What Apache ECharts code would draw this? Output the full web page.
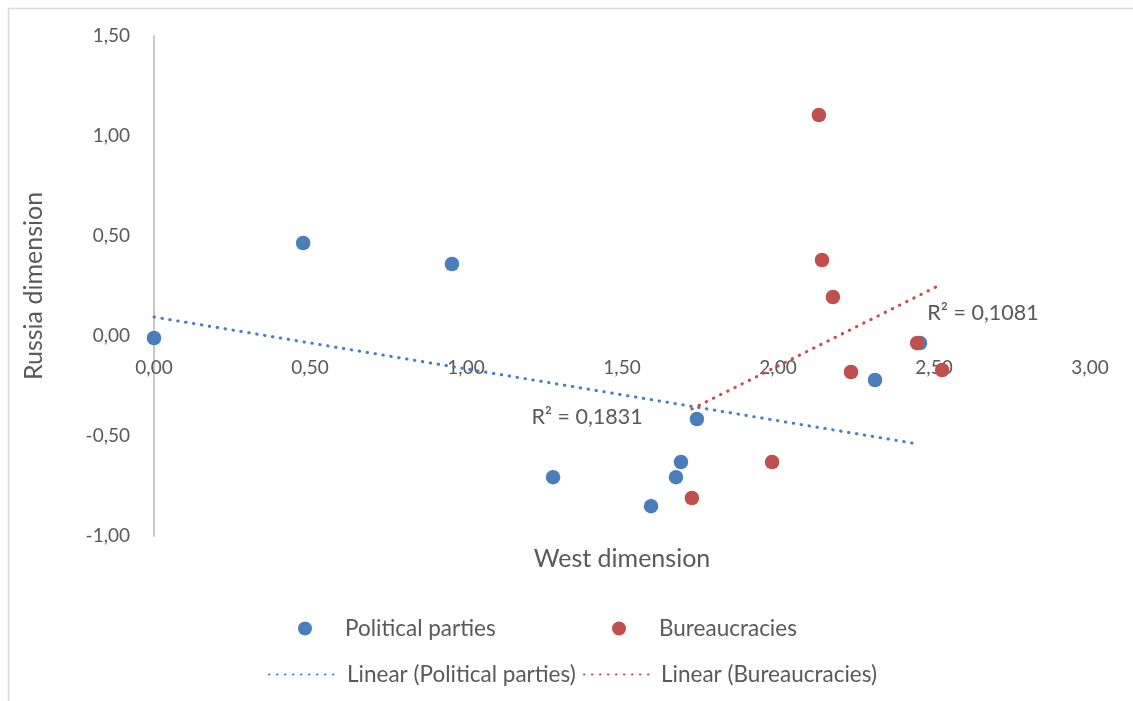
<!DOCTYPE html>
<html>
<head>
<meta charset="utf-8">
<script src="https://cdn.jsdelivr.net/npm/echarts@6/dist/echarts.min.js"></script>
<style>
    html, body { margin: 0; padding: 0; background: #fff; }
    #chart { width: 1133px; height: 701px; }
</style>
</head>
<body>
<div id="chart"></div>
<script>
// West dimension / Russia dimension
let partiesX = [0.00, 0.478, 0.955, 1.279, 1.593, 1.673, 1.689, 1.740, 2.311, 2.455];
let partiesY = [-0.01, 0.465, 0.360, -0.706, -0.851, -0.706, -0.630, -0.415, -0.220, -0.035];
let bureauX = [2.131, 2.141, 2.176, 2.234, 2.446, 2.526, 1.981, 1.724];
let bureauY = [1.105, 0.380, 0.195, -0.180, -0.035, -0.170, -0.630, -0.810];

// trendline ends as drawn
let partiesTrendX = [0.00, 2.43];
let partiesTrendY = [0.095, -0.535];
let bureauTrendX = [1.724, 2.506];
let bureauTrendY = [-0.365, 0.245];

let r2Labels = ['R² = 0,1831', 'R² = 0,1081'];

let xTicks = { min: 0, max: 3, interval: 0.5 };
let yTicks = { min: -1, max: 1.5, interval: 0.5 };

(function () {
    let chart = echarts.init(document.getElementById('chart'));

    const blue = '#4a7ebb';
    const red = '#c0504d';
    const font = 'Lato';
    const grey = '#595959';

    function zip(xs, ys) {
        return xs.map(function (x, i) { return [x, ys[i]]; });
    }
    function fmt(v) {
        return v.toFixed(2).replace('.', ',');
    }

    let dotted = [0.5, 7.5];

    let option = {
        animation: false,
        textStyle: { fontFamily: font },
        graphic: [{
            type: 'rect',
            shape: { x: 8.5, y: 8.5, width: 1200, height: 800 },
            style: { fill: 'none', stroke: '#d9d9d9', lineWidth: 1.5 },
            silent: true
        }],
        grid: { left: 154, right: 43, top: 36, bottom: 165, outerBoundsMode: 'none', containLabel: false },
        xAxis: {
            type: 'value',
            min: xTicks.min, max: xTicks.max, interval: xTicks.interval,
            // axis crosses at y = 0 (Excel style), 200px above the plot bottom
            offset: -200,
            name: 'West dimension',
            nameLocation: 'middle',
            nameGap: 210,
            nameTextStyle: { fontSize: 25, color: grey, fontFamily: font },
            axisLine: { show: false, onZero: false },
            axisTick: { show: false },
            splitLine: { show: false },
            axisLabel: { color: grey, fontSize: 19, margin: 22, formatter: fmt, fontFamily: font }
        },
        yAxis: {
            type: 'value',
            min: yTicks.min, max: yTicks.max, interval: yTicks.interval,
            name: 'Russia dimension',
            nameLocation: 'middle',
            nameGap: 108,
            nameTextStyle: { fontSize: 25, color: grey, fontFamily: font },
            axisLine: { show: true, onZero: false, lineStyle: { color: '#c8c8c8', width: 2 } },
            axisTick: { show: false },
            splitLine: { show: false },
            axisLabel: { color: grey, fontSize: 19, margin: 24, formatter: fmt, fontFamily: font }
        },
        legend: [
            {
                data: ['Political parties'], left: 298, top: 617, padding: 0,
                itemWidth: 14, itemHeight: 14,
                textStyle: { fontSize: 22.5, color: grey, fontFamily: font, padding: [0, 0, 0, 28] }
            },
            {
                data: ['Bureaucracies'], left: 612, top: 617, padding: 0,
                itemWidth: 14, itemHeight: 14,
                textStyle: { fontSize: 22.5, color: grey, fontFamily: font, padding: [0, 0, 0, 28] }
            },
            {
                data: ['Linear (Political parties)'], left: 268, top: 663, padding: 0,
                itemWidth: 72, itemHeight: 14,
                itemStyle: { opacity: 0 },
                textStyle: { fontSize: 22.5, color: grey, fontFamily: font, padding: [0, 0, 0, 1] }
            },
            {
                data: ['Linear (Bureaucracies)'], left: 583, top: 663, padding: 0,
                itemWidth: 72, itemHeight: 14,
                itemStyle: { opacity: 0 },
                textStyle: { fontSize: 22.5, color: grey, fontFamily: font }
            }
        ],
        series: [
            {
                name: 'Linear (Political parties)',
                type: 'line',
                data: zip(partiesTrendX, partiesTrendY),
                symbol: 'none',
                lineStyle: { color: blue, width: 3, type: dotted, cap: 'round' },
                itemStyle: { color: blue },
                z: 1,
                markPoint: {
                    symbol: 'circle', symbolSize: 0,
                    label: { show: true, color: grey, fontSize: 21.5, fontFamily: font, formatter: '{b}' },
                    data: [{ name: r2Labels[0], coord: [1.388, -0.405] }]
                }
            },
            {
                name: 'Linear (Bureaucracies)',
                type: 'line',
                data: zip(bureauTrendX, bureauTrendY),
                symbol: 'none',
                lineStyle: { color: red, width: 3, type: dotted, cap: 'round' },
                itemStyle: { color: red },
                z: 1,
                markPoint: {
                    symbol: 'circle', symbolSize: 0,
                    label: { show: true, color: grey, fontSize: 21.5, fontFamily: font, formatter: '{b}' },
                    data: [{ name: r2Labels[1], coord: [2.657, 0.115] }]
                }
            },
            {
                name: 'Political parties',
                type: 'scatter',
                data: zip(partiesX, partiesY),
                symbol: 'circle',
                symbolSize: 14.5,
                itemStyle: { color: blue, opacity: 1 },
                z: 3
            },
            {
                name: 'Bureaucracies',
                type: 'scatter',
                data: zip(bureauX, bureauY),
                symbol: 'circle',
                symbolSize: 14.5,
                itemStyle: { color: red, opacity: 1 },
                z: 4
            }
        ]
    };

    chart.setOption(option);
})();
</script>
</body>
</html>
